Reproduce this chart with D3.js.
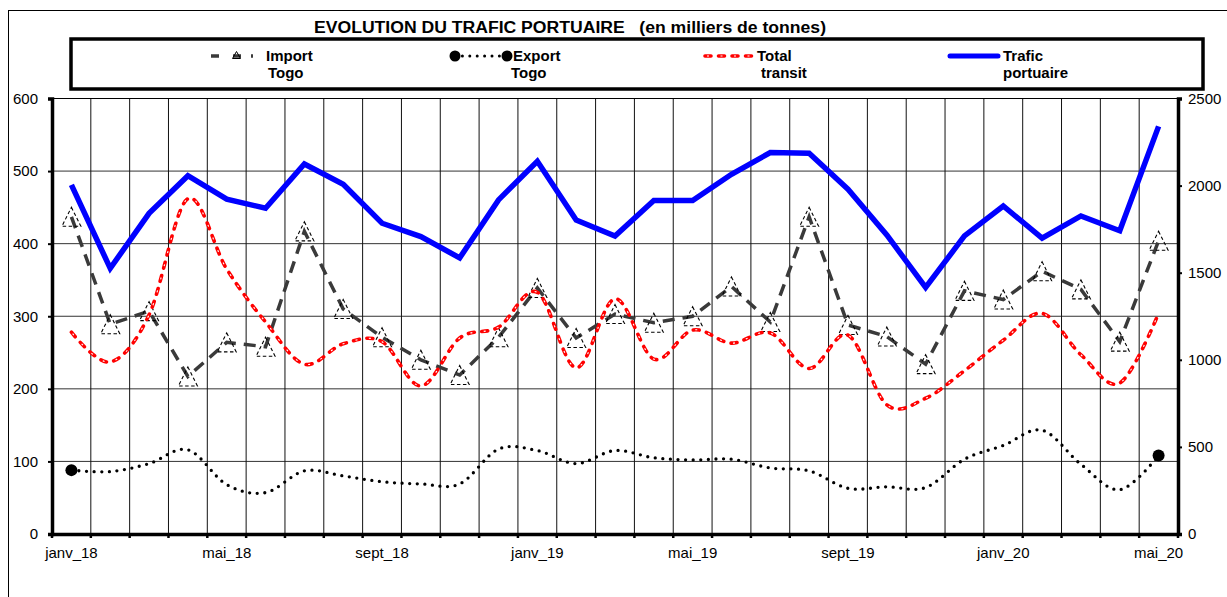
<!DOCTYPE html>
<html>
<head>
<meta charset="utf-8">
<script src="https://cdn.jsdelivr.net/npm/d3@7"></script>
<style>
  html, body { margin: 0; padding: 0; background: #fff; }
  svg { display: block; }
  text { font-family: Arial, "Liberation Sans", sans-serif; fill: #000; }
</style>
</head>
<body>
<svg id="chart" width="1227" height="597"></svg>
<script>
// Months, janv_18 .. mai_20
const categories = [
  "janv_18","févr_18","mars_18","avr_18","mai_18","juin_18","juil_18","août_18","sept_18","oct_18","nov_18","déc_18",
  "janv_19","févr_19","mars_19","avr_19","mai_19","juin_19","juil_19","août_19","sept_19","oct_19","nov_19","déc_19",
  "janv_20","févr_20","mars_20","avr_20","mai_20"
];
// Labels shown on the month axis
const tickLabels = ["janv_18","mai_18","sept_18","janv_19","mai_19","sept_19","janv_20","mai_20"];

// Thousands of tonnes (left axis)
const importTogo = [437, 289, 307, 217, 264, 258, 417, 310, 271, 240, 219, 271, 339, 270, 303, 291, 300, 341, 292, 437, 288, 272, 234, 335, 323, 362, 337, 265, 404];
const exportTogo = [88, 86, 97, 116, 68, 57, 87, 80, 72, 69, 69, 117, 115, 97, 115, 105, 102, 103, 91, 87, 63, 65, 64, 103, 122, 143, 96, 61, 108];
const totalTransit = [278, 237, 302, 462, 365, 292, 234, 262, 265, 204, 270, 285, 333, 229, 324, 241, 281, 263, 277, 228, 274, 178, 187, 225, 267, 304, 247, 208, 304];
// Thousands of tonnes (right axis)
const traficPortuaire = [2004, 1525, 1841, 2057, 1922, 1870, 2124, 2008, 1784, 1707, 1585, 1918, 2140, 1803, 1711, 1914, 1914, 2065, 2190, 2186, 1979, 1717, 1415, 1711, 1883, 1698, 1826, 1741, 2340];

const leftTicks = [0, 100, 200, 300, 400, 500, 600];
const rightTicks = [0, 500, 1000, 1500, 2000, 2500];

const svg = d3.select("#chart");
const plot = { left: 52, right: 1178, top: 98.5, bottom: 534 };

const x = d3.scaleBand().domain(categories).range([plot.left, plot.right]);
const y = d3.scaleLinear().domain([0, 600]).range([plot.bottom, plot.top]);
const y2 = d3.scaleLinear().domain([0, 2500]).range([plot.bottom, plot.top]);
const cx = d => x(d) + x.bandwidth() / 2;
const fontStack = "Arial, 'Liberation Sans', sans-serif";

// Outer frame
svg.append("rect").attr("x", 8.5).attr("y", 10.5).attr("width", 1240).attr("height", 620)
  .attr("fill", "none").attr("stroke", "#000").attr("stroke-width", 1);

// Title
svg.append("text").attr("x", 314).attr("y", 32.5)
  .attr("font-size", 16).attr("font-weight", "bold")
  .style("white-space", "pre")
  .attr("textLength", 512).attr("lengthAdjust", "spacingAndGlyphs")
  .text("EVOLUTION DU TRAFIC PORTUAIRE   (en milliers de tonnes)");

// Horizontal grid
svg.append("g").selectAll("line").data(leftTicks.filter(v => v > 0)).join("line")
  .attr("x1", plot.left).attr("x2", plot.right)
  .attr("y1", d => y(d)).attr("y2", d => y(d))
  .attr("stroke", "#333").attr("stroke-width", 1);

// Vertical grid at month boundaries
const bounds = d3.range(1, categories.length).map(i => plot.left + i * x.step());
svg.append("g").selectAll("line").data(bounds).join("line")
  .attr("x1", d => d).attr("x2", d => d)
  .attr("y1", plot.top).attr("y2", plot.bottom)
  .attr("stroke", "#111").attr("stroke-width", 1);

// Left axis
const gL = svg.append("g").attr("transform", `translate(${plot.left},0)`)
  .call(d3.axisLeft(y).tickValues(leftTicks).tickFormat(d3.format("d")).tickSize(4).tickPadding(10));
gL.select(".domain").attr("stroke", "#000").attr("stroke-width", 3.5);
gL.selectAll(".tick line").attr("stroke", "#000").attr("stroke-width", 2);
gL.selectAll(".tick text").attr("font-size", 15).attr("font-family", fontStack).attr("fill", "#000");

// Right axis
const gR = svg.append("g").attr("transform", `translate(${plot.right},0)`)
  .call(d3.axisRight(y2).tickValues(rightTicks).tickFormat(d3.format("d")).tickSize(4).tickPadding(6));
gR.select(".domain").attr("stroke", "#000").attr("stroke-width", 3.5);
gR.selectAll(".tick line").attr("stroke", "#000").attr("stroke-width", 2);
gR.selectAll(".tick text").attr("font-size", 15).attr("font-family", fontStack).attr("fill", "#000");

// Bottom axis: labels every fourth month, ticks on boundaries
const gB = svg.append("g").attr("transform", `translate(0,${plot.bottom})`)
  .call(d3.axisBottom(x).tickSize(0).tickPadding(13)
    .tickFormat(d => tickLabels.includes(d) ? d : ""));
gB.select(".domain").attr("stroke", "#000").attr("stroke-width", 3.5);
gB.selectAll(".tick text").attr("font-size", 15).attr("font-family", fontStack).attr("fill", "#000");
svg.append("g").selectAll("line").data([plot.left, ...bounds, plot.right]).join("line")
  .attr("x1", d => d).attr("x2", d => d)
  .attr("y1", plot.bottom).attr("y2", plot.bottom + 4)
  .attr("stroke", "#000").attr("stroke-width", 2.5);

// Plot top edge
svg.append("line").attr("x1", plot.left).attr("x2", plot.right)
  .attr("y1", plot.top).attr("y2", plot.top).attr("stroke", "#000").attr("stroke-width", 1);

const smooth = d3.curveCatmullRom.alpha(0);

// Import Togo
const importLine = d3.line().x((d, i) => cx(categories[i])).y(d => y(d));
svg.append("path").datum(importTogo).attr("d", importLine)
  .attr("fill", "none").attr("stroke", "#3a3a3a").attr("stroke-width", 3.5)
  .attr("stroke-dasharray", "12,8");
const tri = (px, py, w, h) => `M${px},${py - h / 2}L${px + w / 2},${py + h / 2}L${px - w / 2},${py + h / 2}Z`;
svg.append("g").selectAll("path").data(importTogo).join("path")
  .attr("d", (d, i) => tri(cx(categories[i]), y(d), 19, 19))
  .attr("fill", "none").attr("stroke", "#000").attr("stroke-width", 1.1)
  .attr("stroke-dasharray", "3.5,2.5");

// Export Togo
const exportLine = d3.line().curve(smooth).x((d, i) => cx(categories[i])).y(d => y(d));
svg.append("path").datum(exportTogo).attr("d", exportLine)
  .attr("fill", "none").attr("stroke", "#000").attr("stroke-width", 3.3)
  .attr("stroke-linecap", "round").attr("stroke-dasharray", "0,7.6");
svg.append("g").selectAll("circle").data([0, exportTogo.length - 1]).join("circle")
  .attr("cx", i => cx(categories[i])).attr("cy", i => y(exportTogo[i])).attr("r", 6)
  .attr("fill", "#000");

// Total transit
const transitLine = d3.line().curve(smooth).x((d, i) => cx(categories[i])).y(d => y(d));
svg.append("path").datum(totalTransit).attr("d", transitLine)
  .attr("fill", "none").attr("stroke", "#ff0000").attr("stroke-width", 3.6)
  .attr("stroke-linecap", "round").attr("stroke-dasharray", "6,7.5");
svg.append("path").datum(totalTransit).attr("d", transitLine)
  .attr("fill", "none").attr("stroke", "#fff").attr("stroke-width", 1.1)
  .attr("stroke-dasharray", "0,2,2,9.5");

// Trafic portuaire (right axis)
const traficLine = d3.line().x((d, i) => cx(categories[i])).y(d => y2(d));
svg.append("path").datum(traficPortuaire).attr("d", traficLine)
  .attr("fill", "none").attr("stroke", "#0000ff").attr("stroke-width", 5.5)
  .attr("stroke-linejoin", "miter");

// Legend
const lg = svg.append("g");
lg.append("rect").attr("x", 71).attr("y", 39).attr("width", 1132).attr("height", 50)
  .attr("fill", "#fff").attr("stroke", "#000").attr("stroke-width", 3.5);
const ly = 56;
// Import symbol
lg.append("line").attr("x1", 211).attr("x2", 261).attr("y1", ly).attr("y2", ly)
  .attr("stroke", "#3a3a3a").attr("stroke-width", 3.5).attr("stroke-dasharray", "8,14,8,10,2,40");
lg.append("path").attr("d", tri(236.5, ly - 1, 8, 7)).attr("fill", "none")
  .attr("stroke", "#000").attr("stroke-width", 1);
// Export symbol
lg.append("line").attr("x1", 455).attr("x2", 507).attr("y1", ly).attr("y2", ly)
  .attr("stroke", "#000").attr("stroke-width", 3).attr("stroke-linecap", "round")
  .attr("stroke-dasharray", "0,7.4");
lg.selectAll("circle.m").data([455, 507]).join("circle").attr("class", "m")
  .attr("cx", d => d).attr("cy", ly).attr("r", 5.5).attr("fill", "#000");
// Total transit symbol
lg.append("line").attr("x1", 705).attr("x2", 752).attr("y1", ly).attr("y2", ly)
  .attr("stroke", "#ff0000").attr("stroke-width", 3.6).attr("stroke-linecap", "round")
  .attr("stroke-dasharray", "6,7.5");
lg.append("line").attr("x1", 705).attr("x2", 752).attr("y1", ly).attr("y2", ly)
  .attr("stroke", "#fff").attr("stroke-width", 1.1).attr("stroke-dasharray", "0,2,2,9.5");
// Trafic portuaire symbol
lg.append("line").attr("x1", 950).attr("x2", 998).attr("y1", ly).attr("y2", ly)
  .attr("stroke", "#0000ff").attr("stroke-width", 5).attr("stroke-linecap", "round");

const legendText = [
  { x: 266, t: ["Import", "Togo"], x2: 268 },
  { x: 513, t: ["Export", "Togo"], x2: 511 },
  { x: 757, t: ["Total", "transit"], x2: 761 },
  { x: 1003, t: ["Trafic", "portuaire"], x2: 1003 }
];
legendText.forEach(e => {
  lg.append("text").attr("x", e.x).attr("y", 61).attr("font-size", 15).attr("font-weight", "bold").text(e.t[0]);
  lg.append("text").attr("x", e.x2).attr("y", 78).attr("font-size", 15).attr("font-weight", "bold").text(e.t[1]);
});
</script>
</body>
</html>
